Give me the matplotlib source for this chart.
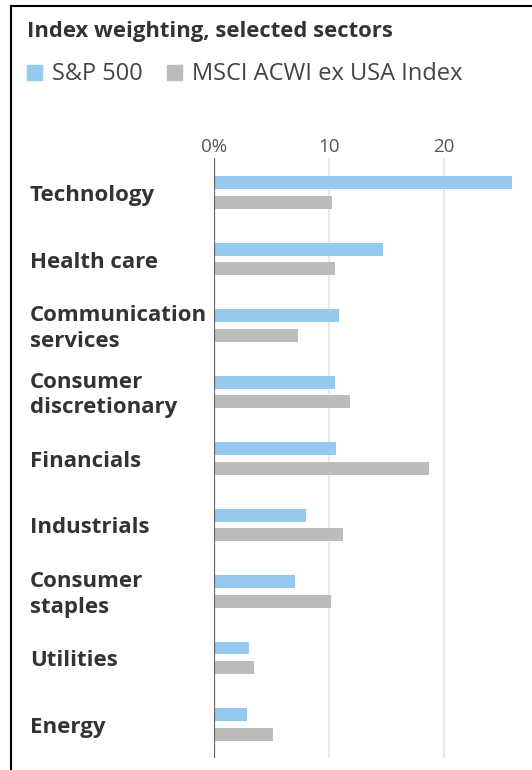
import numpy as np
import matplotlib.pyplot as plt
from matplotlib.lines import Line2D
from matplotlib.patches import Rectangle

# Data (percent of index)
sectors = ["Technology", "Health care", "Communication\nservices", "Consumer\ndiscretionary",
           "Financials", "Industrials", "Consumer\nstaples", "Utilities", "Energy"]
sp500 = [25.9, 14.7, 10.9, 10.5, 10.6, 8.0, 7.0, 3.0, 2.9]
acwi_ex_usa = [10.3, 10.5, 7.3, 11.8, 18.7, 11.2, 10.2, 3.5, 5.1]
xticks = [0, 10, 20]
xticklabels = ["0%", "10", "20"]

blue = "#95caee"
grey = "#bcbcbc"
text_col = "#333333"

plt.rcParams["font.family"] = ["Open Sans", "DejaVu Sans"]

W, H = 532, 770
fig = plt.figure(figsize=(W / 100, H / 100), dpi=100)

# axes placed in pixel coords: zero line at x=214, plot from y=158 to 758
ax = fig.add_axes([214 / W, 1 - 758 / H, (W - 214) / W, 600 / H])
y = np.arange(len(sectors))
bh = 0.195
off = 0.15
ax.barh(y - off, sp500, height=bh, color=blue, zorder=3)
ax.barh(y + off, acwi_ex_usa, height=bh, color=grey, zorder=3)

ax.set_xlim(0, 27.65)
ax.set_ylim(8.504, -0.519)
for s in ax.spines.values():
    s.set_visible(False)
ax.axvline(0, color="#666666", lw=1.6, zorder=4)
for t in xticks[1:]:
    ax.axvline(t, color="#e8e8e8", lw=1.5, zorder=1)
ax.set_yticks([])
ax.xaxis.tick_top()
ax.set_xticks(xticks)
ax.set_xticklabels(xticklabels, fontsize=13.5, color="#555555")
ax.tick_params(axis="x", length=0, pad=1.5)

# sector labels, a touch below the group centre like the original
for i, s in enumerate(sectors):
    fig.text(30 / W, (ax.transData.transform((0, i))[1] - 3) / H, s, fontsize=16,
             fontweight="bold", color=text_col, ha="left", va="center", linespacing=1.3)

# title and legend
fig.text(27 / W, 1 - 32 / H, "Index weighting, selected sectors", fontsize=15.8,
         fontweight="bold", color=text_col, ha="left", va="center")
fig.add_artist(Rectangle((27 / W, 1 - 80 / H), 15 / W, 15 / H, color=blue, transform=fig.transFigure))
fig.text(52 / W, 1 - 74.5 / H, "S&P 500", fontsize=17, color="#444444", ha="left", va="center")
fig.add_artist(Rectangle((167 / W, 1 - 80 / H), 15 / W, 15 / H, color=grey, transform=fig.transFigure))
fig.text(192 / W, 1 - 74.5 / H, "MSCI ACWI ex USA Index", fontsize=17, color="#444444",
         ha="left", va="center")

# frame (cut at right and bottom)
fig.add_artist(Line2D([11 / W, 11 / W], [0, 1 - 6 / H], color="black", lw=1.5))
fig.add_artist(Line2D([11 / W, 1], [1 - 6 / H, 1 - 6 / H], color="black", lw=1.5))

fig.savefig("out.png", dpi=100)
